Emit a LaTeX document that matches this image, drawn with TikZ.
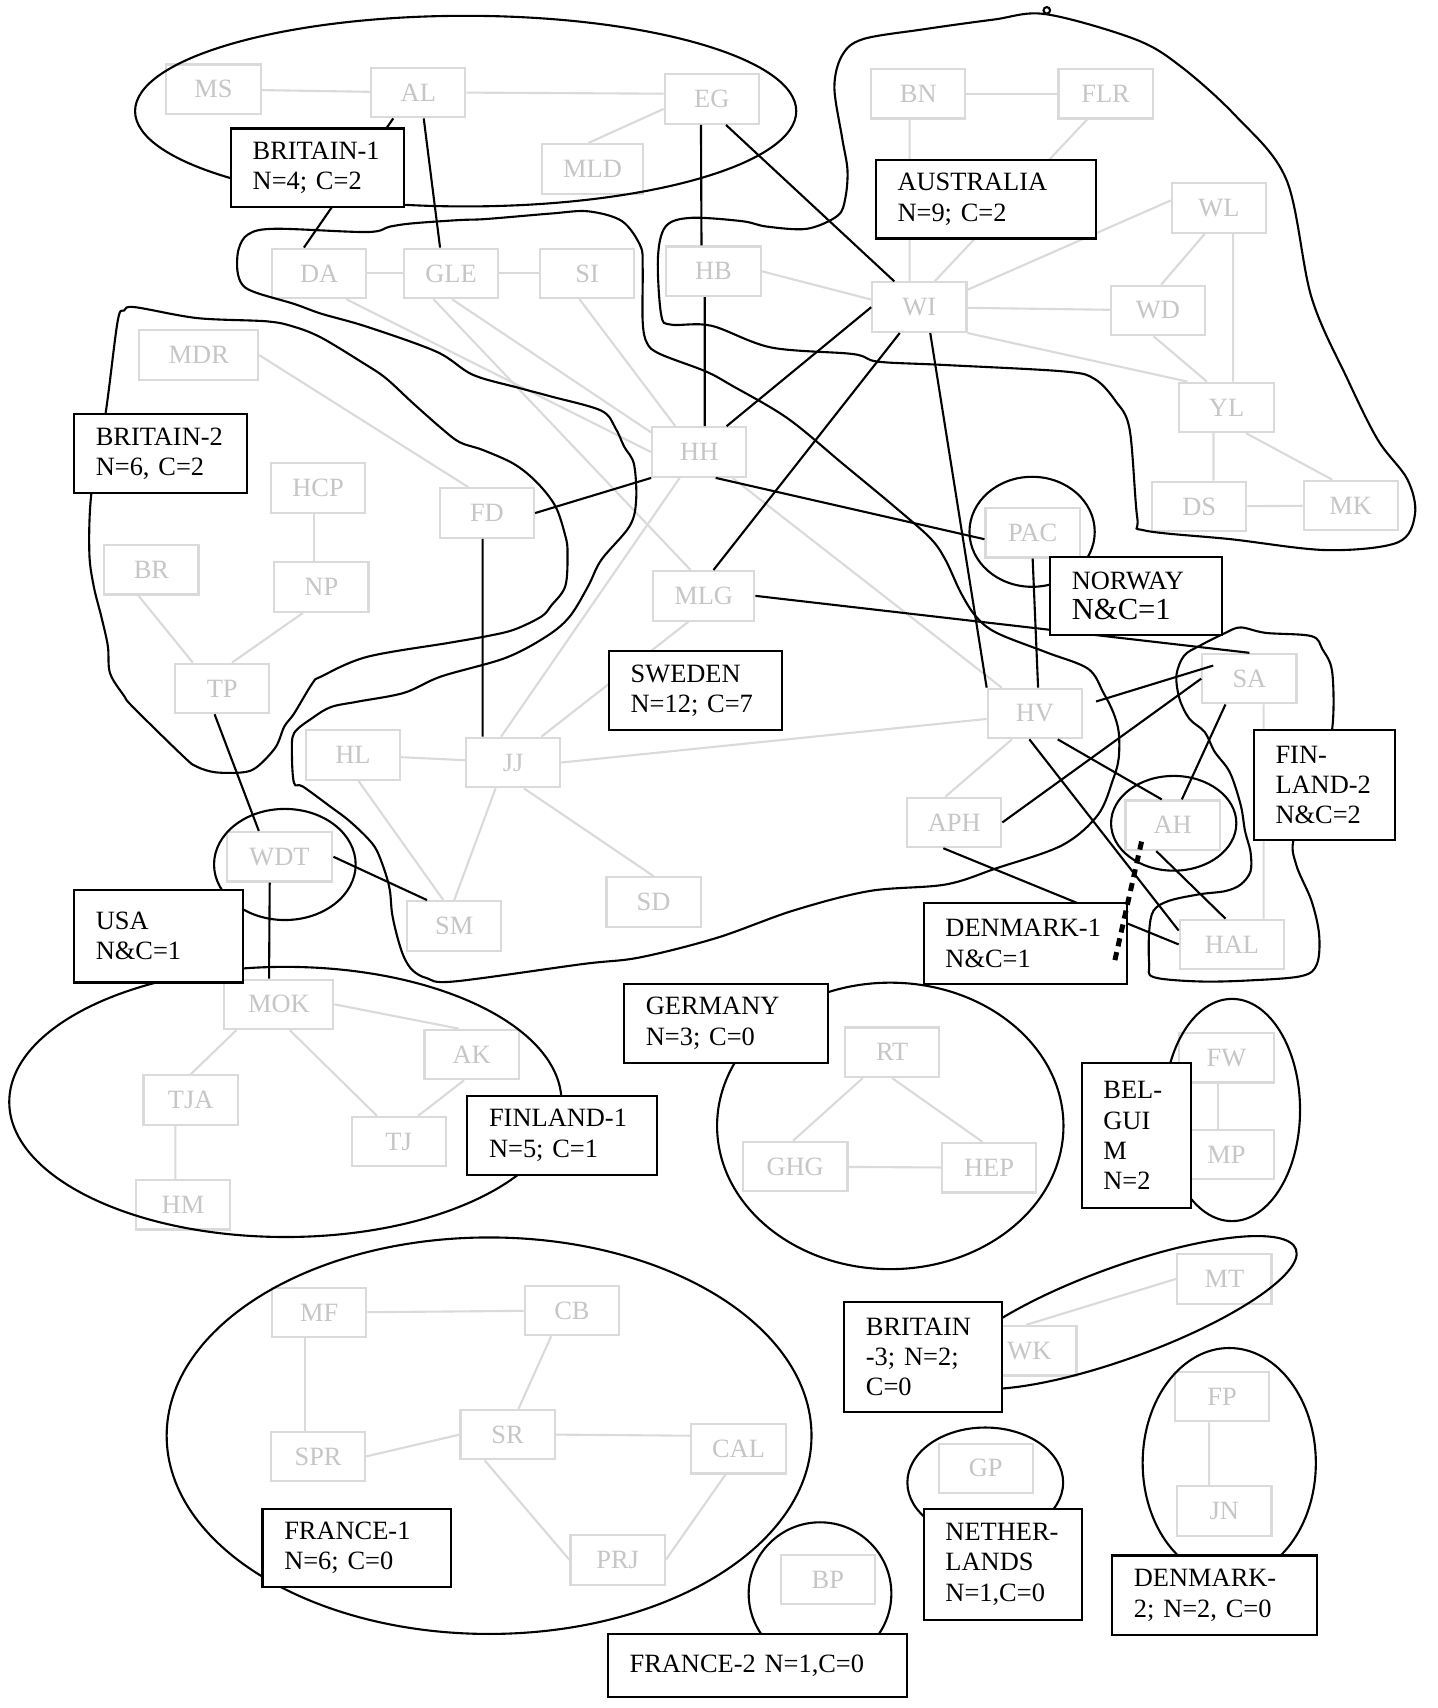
\documentclass[tikz,border=0pt]{standalone}
\usepackage{fontspec}
\setmainfont{Liberation Serif}
\definecolor{nodeline}{RGB}{218,218,218}
\definecolor{nodetext}{RGB}{198,198,198}
\newcommand{\lblfont}{\fontsize{6.9}{7.9}\selectfont\exhyphenpenalty=10000\hyphenpenalty=10000}

\begin{document}
\begin{tikzpicture}[x=0.1mm, y=-0.1mm,
    gnode/.style={draw=nodeline, fill=white, text=nodetext, line width=0.55pt,
                  minimum width=8.65mm, minimum height=4.55mm, inner sep=0pt, font=\lblfont},
    glink/.style={draw=nodeline, line width=0.55pt},
    tie/.style={draw=black, line width=0.55pt},
    region/.style={draw=black, line width=0.55pt},
    lbl/.style={draw, line width=0.55pt, fill=white, anchor=north west,
                inner xsep=2mm, inner ysep=0pt, align=left, font=\lblfont}]
\useasboundingbox (0,0) rectangle (1320,1568);

% grey nodes
\node[gnode] (MS) at (196,82) {MS};
\node[gnode] (AL) at (384,85) {AL};
\node[gnode] (EG) at (653.5,91) {EG};
\node[gnode, minimum width=9.3mm] (MLD) at (544,155) {MLD};
\node[gnode] (BN) at (843,86) {BN};
\node[gnode] (FLR) at (1015,86) {FLR};
\node[gnode] (DA) at (293,251) {DA};
\node[gnode] (GLE) at (414,251) {GLE};
\node[gnode] (SI) at (539,251) {SI};
\node[gnode] (HB) at (655,249) {HB};
\node[gnode] (WI) at (844,282) {WI};
\node[gnode] (WL) at (1119,191) {WL};
\node[gnode] (WD) at (1063,285) {WD};
\node[gnode] (YL) at (1126,374) {YL};
\node[gnode] (DS) at (1101,465) {DS};
\node[gnode] (MK) at (1240,464) {MK};
\node[gnode, minimum width=10.9mm] (MDR) at (182.5,326) {MDR};
\node[gnode] (HCP) at (292,448) {HCP};
\node[gnode] (FD) at (447,471) {FD};
\node[gnode] (HH) at (642,415) {HH};
\node[gnode] (BR) at (139,523) {BR};
\node[gnode] (NP) at (295,539) {NP};
\node[gnode, minimum width=9.3mm] (MLG) at (646,547) {MLG};
\node[gnode] (PAC) at (948,489) {PAC};
\node[gnode] (TP) at (204,632) {TP};
\node[gnode] (HV) at (950,655) {HV};
\node[gnode] (SA) at (1147,623) {SA};
\node[gnode] (HL) at (324,693) {HL};
\node[gnode] (JJ) at (471,700) {JJ};
\node[gnode] (APH) at (876,755) {APH};
\node[gnode] (AH) at (1076.5,757.6) {AH};
\node[gnode, minimum width=9.7mm] (WDT) at (256.6,786.5) {WDT};
\node[gnode] (SM) at (417,850) {SM};
\node[gnode] (SD) at (600,828) {SD};
\node[gnode, minimum width=9.6mm] (HAL) at (1131,867) {HAL};
\node[gnode, minimum width=10mm] (MOK) at (256,922) {MOK};
\node[gnode] (AK) at (433,968) {AK};
\node[gnode] (TJA) at (175,1010) {TJA};
\node[gnode] (TJ) at (366,1048) {TJ};
\node[gnode] (HM) at (168,1106) {HM};
\node[gnode] (RT) at (819,966) {RT};
\node[gnode, minimum width=9.6mm] (GHG) at (730,1071) {GHG};
\node[gnode] (HEP) at (908,1072) {HEP};
\node[gnode] (FW) at (1126,971) {FW};
\node[gnode] (MP) at (1126,1060) {MP};
\node[gnode] (MF) at (293,1205) {MF};
\node[gnode] (CB) at (525,1203) {CB};
\node[gnode] (SR) at (466,1317) {SR};
\node[gnode] (SPR) at (292,1337) {SPR};
\node[gnode] (CAL) at (678,1330) {CAL};
\node[gnode] (PRJ) at (567,1432) {PRJ};
\node[gnode] (MT) at (1124,1174) {MT};
\node[gnode] (WK) at (945,1240) {WK};
\node[gnode] (GP) at (905,1348) {GP};
\node[gnode] (FP) at (1122,1282) {FP};
\node[gnode] (JN) at (1124,1387) {JN};
\node[gnode] (BP) at (760,1450) {BP};

% grey links
\draw[glink] (MS) -- (AL);
\draw[glink] (AL.east) -- ([yshift=0.5mm]EG.west);
\draw[glink] ([yshift=-0.9mm]EG.west) -- ([xshift=-0.4mm]MLD.north);
\draw[glink] (BN) -- (FLR);
\draw[glink] ([xshift=-0.8mm]BN.south) -- ([xshift=-0.9mm]WI.north);
\draw[glink] ([xshift=-1.7mm]FLR.south) -- ([xshift=1.4mm]WI.north);
\draw[glink] ([yshift=1.6mm]WI.east) -- ([yshift=0.7mm]WL.west);
\draw[glink] (WI) -- (WD);
\draw[glink] (WI.south east) -- ([xshift=-3.6mm]YL.north);
\draw[glink] ([xshift=-1.3mm]WL.south) -- ([xshift=0.3mm]WD.north);
\draw[glink] ([xshift=1.3mm]WL.south) -- ([xshift=0.6mm]YL.north);
\draw[glink] ([xshift=-0.4mm]WD.south) -- ([xshift=-1.8mm]YL.north);
\draw[glink] ([xshift=-1.2mm]YL.south) -- ([xshift=1.3mm]DS.north);
\draw[glink] ([xshift=1.8mm]YL.south) -- ([xshift=-1.7mm]MK.north);
\draw[glink] (DS) -- (MK);
\draw[glink] (HB.east) -- ([yshift=0.7mm]WI.west);
\draw[glink] (DA) -- (GLE);
\draw[glink] (GLE) -- (SI);
\draw[glink] ([xshift=2.5mm]DA.south) -- (HH.west);
\draw[glink] ([xshift=0.1mm]GLE.south) -- ([yshift=1.8mm]HH.west);
\draw[glink] ([xshift=-1.6mm]GLE.south) -- ([xshift=-1.2mm]MLG.north);
\draw[glink] ([xshift=-0.7mm]SI.south) -- ([xshift=-2.2mm]HH.north);
\draw[glink] (MDR.east) -- ([xshift=-1.7mm]FD.north);
\draw[glink] ([xshift=-0.4mm]HCP.south) -- ([xshift=-0.7mm]NP.north);
\draw[glink] ([xshift=-1.2mm]BR.south) -- ([xshift=-2.7mm]TP.north);
\draw[glink] ([xshift=-1.7mm]NP.south) -- ([xshift=0.9mm]TP.north);
\draw[glink] ([xshift=-1.8mm]HH.south) -- ([xshift=-1.1mm]JJ.north);
\draw[glink] (HH) -- (HV);
\draw[glink] ([xshift=2.6mm]JJ.north) -- ([xshift=-1.4mm]MLG.south);
\draw[glink] (JJ.east) -- ([yshift=-0.5mm]HV.west);
\draw[glink] (HL) -- (JJ);
\draw[glink] ([xshift=0.5mm]HL.south) -- ([xshift=-1mm]SM.north);
\draw[glink] ([xshift=-1.6mm]JJ.south) -- (SM.north);
\draw[glink] ([xshift=1mm]JJ.south) -- (SD.north);
\draw[glink] ([xshift=-2.1mm]HV.south) -- ([xshift=-0.8mm]APH.north);
\draw[glink] ([xshift=1.3mm]SA.south) -- ([xshift=2.9mm]HAL.north);
\draw[glink] (MOK.east) -- ([xshift=-1.2mm]AK.north);
\draw[glink] ([xshift=-3.9mm]MOK.south) -- (TJA.north);
\draw[glink] ([xshift=1mm]MOK.south) -- ([xshift=-2mm]TJ.north);
\draw[glink] ([xshift=-0.7mm]AK.south) -- ([xshift=1.8mm]TJ.north);
\draw[glink] ([xshift=-1.4mm]TJA.south) -- ([xshift=-0.7mm]HM.north);
\draw[glink] ([xshift=-2.7mm]RT.south) -- ([xshift=-0.2mm]GHG.north);
\draw[glink] (RT.south) -- ([xshift=-0.6mm]HEP.north);
\draw[glink] (GHG) -- (HEP);
\draw[glink] ([xshift=-0.8mm]FW.south) -- ([xshift=-0.8mm]MP.north);
\draw[glink] (MF) -- (CB);
\draw[glink] ([xshift=-1.3mm]MF.south) -- ([xshift=-1.2mm]SPR.north);
\draw[glink] ([xshift=-1.9mm]CB.south) -- ([xshift=1mm]SR.north);
\draw[glink] (SPR.east) -- (SR.west);
\draw[glink] (SR.east) -- ([yshift=1.2mm]CAL.west);
\draw[glink] ([xshift=-2.1mm]SR.south) -- (PRJ.west);
\draw[glink] ([xshift=-1.2mm]CAL.south) -- (PRJ.east);
\draw[glink] ([xshift=-0.3mm]WK.north) -- (MT.west);
\draw[glink] ([xshift=-1.2mm]FP.south) -- ([xshift=-1.4mm]JN.north);

% country outlines
\draw[region] (427.5,102) ellipse [x radius=30.35mm, y radius=8.75mm];
\draw[region] (262,1011.6) ellipse [x radius=25.35mm, y radius=12.4mm];
\draw[region] (817.3,1033.6) ellipse [x radius=15.9mm, y radius=13.15mm];
\draw[region] (449,1318) ellipse [x radius=29.6mm, y radius=18.2mm];
\draw[region] (947.5,488.2) ellipse [x radius=5.75mm, y radius=5.05mm];
\draw[region] (261.5,793.6) ellipse [x radius=6.5mm, y radius=5.1mm];
\draw[region] (1077.5,755.8) ellipse [x radius=5.75mm, y radius=4.35mm];
\draw[region] (1131,1019) ellipse [x radius=6.25mm, y radius=10.2mm];
\draw[region, rotate around={20:(1030,1205)}] (1030,1205) ellipse [x radius=17mm, y radius=4.2mm];
\draw[region] (904.5,1361) ellipse [x radius=7.15mm, y radius=5.05mm];
\draw[region] (1128.5,1343) ellipse [x radius=7.95mm, y radius=10.55mm];
\draw[region] (752.8,1463) ellipse [x radius=6.55mm, y radius=6.55mm];

% Australia
\draw[region] plot[smooth cycle, tension=0.55] coordinates {(960,13) (1042,36) (1084,61)
  (1135,107) (1181,165) (1204,273) (1237,348) (1265,404) (1292,440) (1299,472) (1283,498)
  (1218,505) (1130,495) (1051,487) (1044,475) (1037,394) (1024,368) (1005,348) (977,341)
  (866,335) (806,332) (783,325) (708,319) (653,299) (616,298) (607,289) (604,237) (611,208)
  (634,200) (681,203) (704,208) (741,210) (769,198) (776,182) (778,156) (773,126) (766,80)
  (773,51) (792,36) (847,27) (912,18)};
\draw[region] (961,9.5) circle [radius=0.3mm];
% Sweden
\draw[region] plot[smooth cycle, tension=0.55] coordinates {(219,229) (228,215) (253,210)
  (337,213) (358,208) (379,205) (422,202) (447,201) (506,196) (540,194) (571,203) (588,226)
  (590,246) (590,295) (594,315) (606,325) (648,341) (672,354) (723,384) (774,426) (821,465)
  (854,494) (868,514) (882,544) (896,566) (915,581) (961,599) (999,614) (1013,636) (1022,654)
  (1027,672) (1027,696) (1022,715) (1008,748) (975,776) (915,797) (868,812) (798,818)
  (728,836) (658,861) (587,879) (535,885) (417,901) (392,898) (379,891) (371,879) (365,861)
  (360,839) (358,818) (354,802) (346,781) (337,769) (320,753) (304,741) (278,722) (270,719)
  (268,692) (270,673) (287,659) (304,649) (329,644) (371,636) (405,621) (464,604) (502,584)
  (523,566) (540,538) (552,514) (578,483) (584,459) (582,426) (573,410) (565,393) (552,377)
  (506,364) (476,356) (434,344) (401,323) (337,300) (295,288) (270,279) (236,269) (223,262)
  (218,249)};
% Britain-2
\draw[region] plot[smooth cycle, tension=0.55] coordinates {(124,282) (181,292) (245,295)
  (270,300) (295,310) (333,333) (354,347) (379,370) (405,393) (422,406) (443,413) (472,426)
  (493,443) (510,465) (519,492) (521,507) (519,538) (506,556) (497,566) (472,578) (447,584)
  (413,590) (337,603) (295,621) (287,627) (270,655) (261,667) (253,686) (236,704) (223,709)
  (198,709) (181,704) (169,695) (122,649) (114,639) (101,618) (99,593) (93,566) (86,538)
  (82,507) (84,452) (97,379) (108,295) (114,285)};
% Finland-2
\draw[region] plot[smooth cycle, tension=0.55] coordinates {(1125,581) (1139,576) (1162,581)
  (1204,584) (1214,596) (1223,617) (1223,669) (1210,720) (1188,769) (1190,794) (1204,827)
  (1211,858) (1209,885) (1195,896) (1148,900) (1101,901) (1059,897) (1055,885) (1055,855)
  (1059,836) (1073,827) (1101,821) (1125,818) (1139,812) (1148,800) (1148,782) (1143,763)
  (1139,739) (1129,709) (1115,690) (1106,672) (1092,660) (1083,642) (1080,620) (1087,602)
  (1101,593)};

% black links
\draw[tie] ([xshift=-2.3mm]AL.south) -- ([xshift=-1.4mm]DA.north);
\draw[tie] ([xshift=0.5mm]AL.south) -- ([xshift=-1mm]GLE.north);
\draw[tie] ([xshift=-1mm]EG.south) -- ([xshift=-1.1mm]HB.north);
\draw[tie] ([xshift=1.3mm]EG.south) -- ([xshift=-2.3mm]WI.north);
\draw[tie] ([xshift=-0.8mm]HB.south) -- ([xshift=0.5mm]HH.north);
\draw[tie] ([xshift=2.5mm]HH.north) -- (WI.west);
\draw[tie] ([xshift=-1.8mm]WI.south) -- ([xshift=0.9mm]MLG.north);
\draw[tie] ([xshift=1mm]WI.south) -- (HV.north west);
\draw[tie] (HH.south west) -- (FD.east);
\draw[tie] ([xshift=1.5mm]HH.south) -- ([yshift=-0.6mm]PAC.west);
\draw[tie] ([xshift=-0.4mm]FD.south) -- ([xshift=-2.8mm]JJ.north);
\draw[tie] (MLG.east) -- (SA.north);
\draw[tie] (PAC.south) -- ([xshift=0.3mm]HV.north);
\draw[tie] ([shift={(1.2mm,1.1mm)}]HV.east) -- ([shift={(1.1mm,1.2mm)}]SA.west);
\draw[tie] (APH.east) -- (SA.west);
\draw[tie] ([xshift=-2.2mm]SA.south) -- ([xshift=0.85mm]AH.north);
\draw[tie] ([xshift=2.1mm]HV.south) -- ([xshift=-1mm]AH.north);
\draw[tie] ([xshift=-0.5mm]HV.south) -- ([yshift=-1.1mm]HAL.north west);
\draw[tie] ([xshift=-1.5mm]AH.south) -- ([xshift=-0.6mm]HAL.north);
\draw[tie] ([xshift=-1mm]APH.south) -- (HAL.west);
\draw[tie] ([xshift=-0.7mm]TP.south) -- ([xshift=-1.9mm]WDT.north);
\draw[tie] (WDT.east) -- ([xshift=-2.5mm]SM.north);
\draw[tie] ([xshift=-0.9mm]WDT.south) -- ([xshift=-0.9mm]MOK.north);

% country labels
\node[lbl, text width=11.9mm, minimum height=7.2mm] (britA) at (211,117) {BRITAIN-1\\N=4; C=2};
\node[lbl, text width=16.2mm, minimum height=7.2mm] (aus) at (803,146) {AUSTRALIA\\N=9; C=2};
\node[lbl, text width=11.9mm, minimum height=7.3mm] (britB) at (67,379) {BRITAIN-2\\N=6, C=2};
\node[lbl, text width=11.8mm, minimum height=7.2mm] (nor) at (963,510) {NORWAY\\{\fontsize{8}{9}\selectfont N\&C=1}};
\node[lbl, text width=11.9mm, minimum height=7.2mm] (swe) at (558,597) {SWEDEN\\N=12; C=7};
\node[lbl, text width=9mm, minimum height=10.1mm] (finB) at (1150,669) {FIN-\\LAND-2\\N\&C=2};
\node[lbl, text width=11.5mm, minimum height=8.5mm] (usa) at (67,816) {USA\\N\&C=1};
\node[lbl, text width=14.7mm, minimum height=7.4mm] (dkA) at (847,828) {DENMARK-1\\N\&C=1};
\node[lbl, text width=14.7mm, minimum height=7.3mm] (ger) at (572,902) {GERMANY\\N=3; C=0};
\node[lbl, text width=13.4mm, minimum height=7.25mm] (finA) at (428,1005) {FINLAND-1\\N=5; C=1};
\node[lbl, text width=6mm, minimum height=13.3mm] (bel) at (992,975) {BEL-\\GUI\\M\\N=2};
\node[lbl, text width=10.5mm, minimum height=10.1mm] (britC) at (774,1194) {BRITAIN\\-3; N=2;\\C=0};
\node[lbl, text width=13.3mm, minimum height=7.2mm] (fraA) at (240,1384) {FRANCE-1\\N=6; C=0};
\node[lbl, text width=10.5mm, minimum height=10.2mm] (neth) at (847,1384) {NETHER-\\LANDS\\N=1,C=0};
\node[lbl, text width=14.8mm, minimum height=7.3mm] (dkB) at (1020,1427) {DENMARK-\\2; N=2, C=0};
\node[lbl, text width=23.5mm, minimum height=5.8mm] (fraB) at (557,1499) {FRANCE-2 N=1,C=0};

% dotted divider
\draw[line width=1.3pt, dash pattern=on 0.75mm off 0.55mm]
  ([shift={(-2.85mm,-1.5mm)}]AH.center) -- ([shift={(-1.35mm,1.77mm)}]dkA.south east);
\end{tikzpicture}
\end{document}
